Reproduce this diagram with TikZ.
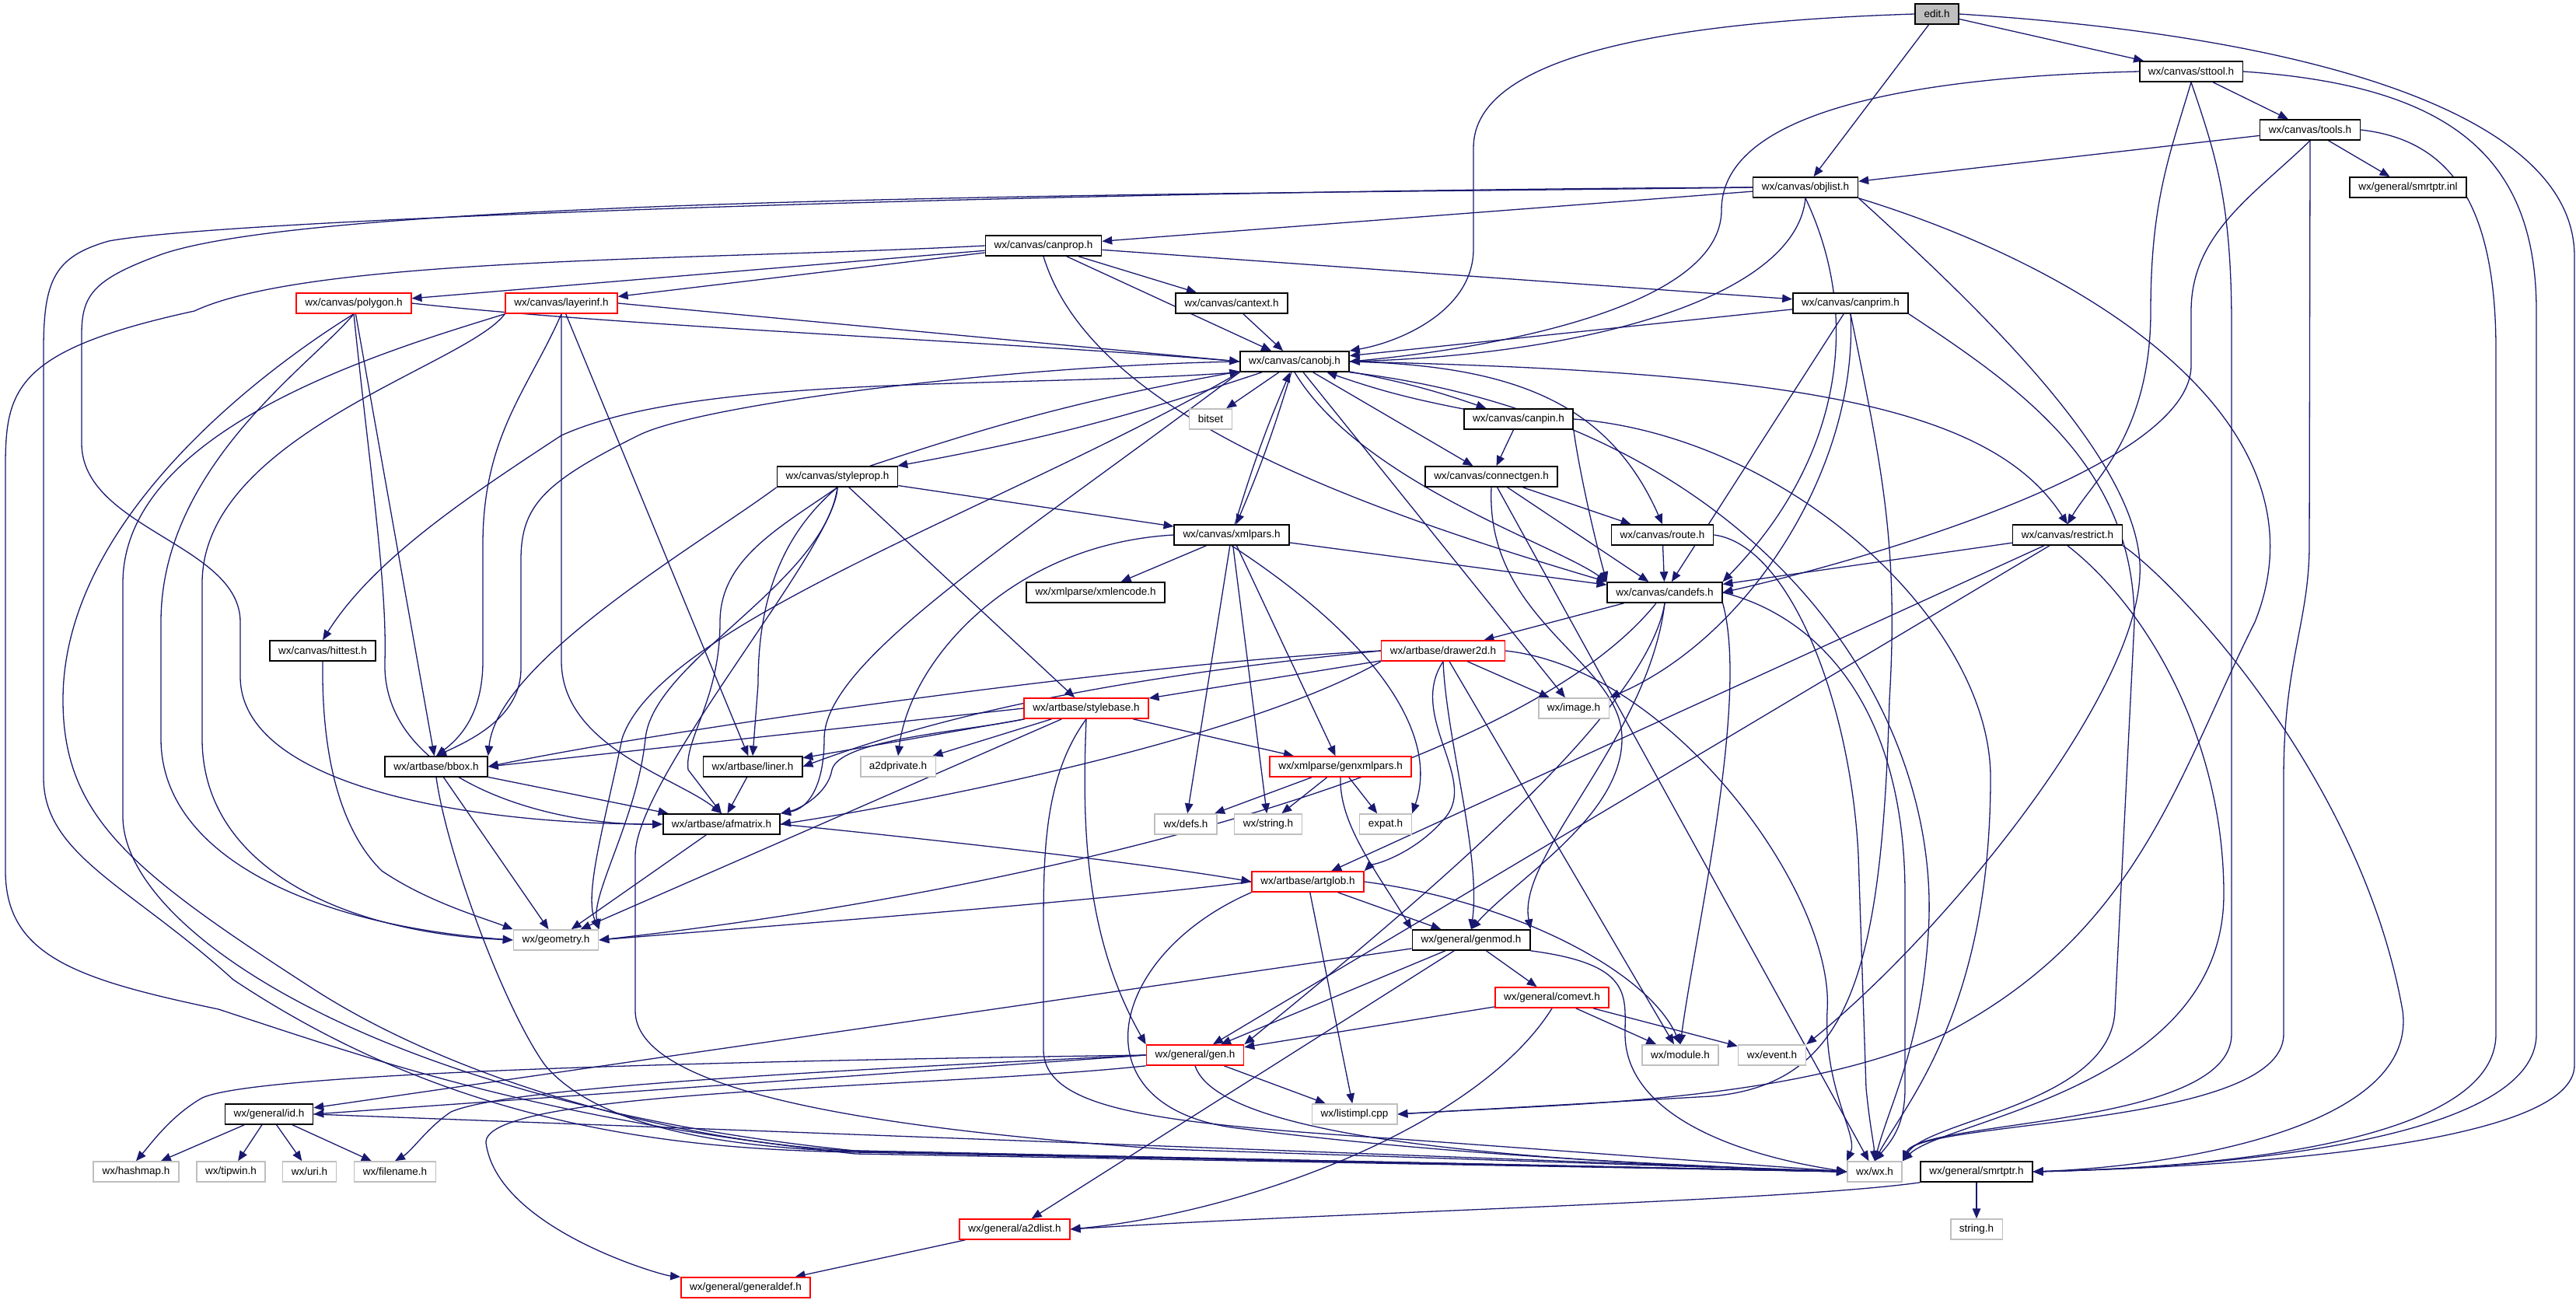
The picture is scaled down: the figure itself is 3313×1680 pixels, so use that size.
\documentclass[tikz,border=0pt]{standalone}
\usepackage{fontspec}
\setmainfont{Liberation Sans}
\usetikzlibrary{arrows.meta,backgrounds}
\definecolor{edgec}{HTML}{191970}
\definecolor{grayb}{HTML}{BFBFBF}
\definecolor{redb}{HTML}{FF0000}
\tikzset{
  box/.style={rectangle, draw, line width=1.4pt, minimum height=0.78cm, inner xsep=9.6pt, inner ysep=0pt, fill=white, font=\fontsize{11.5}{13}\selectfont},
  nb/.style={box, draw=black},
  nr/.style={box, draw=redb},
  ng/.style={box, draw=grayb},
  edge/.style={draw=edgec, line width=1.1pt, -{Triangle[length=11pt,width=9pt]}}
}
\begin{document}
\begin{tikzpicture}[x=0.03cm,y=-0.03cm]
\useasboundingbox (0,0) rectangle (3313,1680);
% nodes
\node[nb, fill=grayb] (edit) at (2491,18) {edit.h};
\node[nb] (sttool) at (2818,92) {wx/canvas/sttool.h};
\node[nb] (tools) at (2971,167) {wx/canvas/tools.h};
\node[nb] (objlist) at (2322,241) {wx/canvas/objlist.h};
\node[nb] (smrtptrinl) at (3097,241) {wx/general/smrtptr.inl};
\node[nb] (canprop) at (1342,316) {wx/canvas/canprop.h};
\node[nr] (polygon) at (455,390) {wx/canvas/polygon.h};
\node[nr] (layerinf) at (722,390) {wx/canvas/layerinf.h};
\node[nb] (cantext) at (1584,390) {wx/canvas/cantext.h};
\node[nb] (canprim) at (2380,390) {wx/canvas/canprim.h};
\node[nb] (canobj) at (1665,465) {wx/canvas/canobj.h};
\node[ng] (bitset) at (1557,539) {bitset};
\node[nb] (canpin) at (1953,539) {wx/canvas/canpin.h};
\node[nb] (styleprop) at (1077,613) {wx/canvas/styleprop.h};
\node[nb] (connectgen) at (1918,613) {wx/canvas/connectgen.h};
\node[nb] (xmlpars) at (1584,688) {wx/canvas/xmlpars.h};
\node[nb] (route) at (2138,688) {wx/canvas/route.h};
\node[nb] (restrict) at (2659,688) {wx/canvas/restrict.h};
\node[nb] (xmlencode) at (1409,762) {wx/xmlparse/xmlencode.h};
\node[nb] (candefs) at (2141,762) {wx/canvas/candefs.h};
\node[nb] (hittest) at (415,837) {wx/canvas/hittest.h};
\node[nr] (drawer2d) at (1856,837) {wx/artbase/drawer2d.h};
\node[nr] (stylebase) at (1397,911) {wx/artbase/stylebase.h};
\node[ng] (image) at (2024,911) {wx/image.h};
\node[nb] (bbox) at (561,986) {wx/artbase/bbox.h};
\node[nb] (liner) at (968,986) {wx/artbase/liner.h};
\node[ng] (a2dprivate) at (1155,986) {a2dprivate.h};
\node[nr] (genxmlpars) at (1724,986) {wx/xmlparse/genxmlpars.h};
\node[nb] (afmatrix) at (928,1060) {wx/artbase/afmatrix.h};
\node[ng] (defs) at (1525,1060) {wx/defs.h};
\node[ng] (string) at (1631,1060) {wx/string.h};
\node[ng] (expat) at (1782,1060) {expat.h};
\node[nr] (artglob) at (1682,1134) {wx/artbase/artglob.h};
\node[ng] (geometry) at (715,1209) {wx/geometry.h};
\node[nb] (genmod) at (1892,1209) {wx/general/genmod.h};
\node[nr] (comevt) at (1996,1283) {wx/general/comevt.h};
\node[nr] (gen) at (1537,1357) {wx/general/gen.h};
\node[ng] (module) at (2161,1357) {wx/module.h};
\node[ng] (event) at (2279,1357) {wx/event.h};
\node[nb] (id) at (346,1433) {wx/general/id.h};
\node[ng] (listimpl) at (1742,1433) {wx/listimpl.cpp};
\node[ng] (hashmap) at (175,1507) {wx/hashmap.h};
\node[ng] (tipwin) at (297,1507) {wx/tipwin.h};
\node[ng] (uri) at (398,1507) {wx/uri.h};
\node[ng] (filename) at (508,1507) {wx/filename.h};
\node[ng] (wx) at (2411,1507) {wx/wx.h};
\node[nb] (smrtptrh) at (2542,1507) {wx/general/smrtptr.h};
\node[nr] (a2dlist) at (1305,1581) {wx/general/a2dlist.h};
\node[ng] (stringh) at (2542,1581) {string.h};
\node[nr] (generaldef) at (959,1656) {wx/general/generaldef.h};
\begin{scope}[on background layer]
\fill[white] (0,0) rectangle (3313,1680);
% edit
\draw[edge] (edit.west) .. controls (2150,28) and (1895,70) .. (1895,190) -- (1895,320) .. controls (1895,400) and (1800,440) .. (canobj.north east);
\draw[edge] (edit) -- (objlist);
\draw[edge] (edit) -- (sttool);
\draw[edge] (edit.east) .. controls (2950,45) and (3311,140) .. (3311,330) -- (3311,1370) .. controls (3311,1470) and (2900,1500) .. (smrtptrh.east);
% sttool
\draw[edge] (sttool.west) .. controls (2400,100) and (2214,160) .. (2214,270) .. controls (2214,400) and (1900,450) .. (canobj.east);
\draw[edge] (sttool) -- (tools);
\draw[edge] (sttool.south) .. controls (2790,200) and (2766,260) .. (2766,400) .. controls (2766,560) and (2690,620) .. (restrict.north);
\draw[edge] (sttool.south) .. controls (2850,200) and (2870,260) .. (2870,420) -- (2870,1330) .. controls (2870,1450) and (2470,1440) .. (wx.north east);
\draw[edge] (sttool.east) .. controls (3150,110) and (3262,200) .. (3262,400) -- (3262,1330) .. controls (3262,1460) and (2900,1500) .. (smrtptrh.east);
% tools
\draw[edge] (tools) -- (objlist);
\draw[edge] (tools) -- (smrtptrinl);
\draw[edge] (tools.south) .. controls (2900,250) and (2818,300) .. (2818,400) -- (2818,470) .. controls (2818,600) and (2400,720) .. (candefs.east);
\draw[edge] (tools.south) -- (2970,700) .. controls (2970,800) and (2937,850) .. (2937,1000) -- (2937,1330) .. controls (2937,1450) and (2470,1440) .. (wx.north east);
\draw[edge] (tools.east) .. controls (3150,180) and (3210,260) .. (3210,450) -- (3210,1330) .. controls (3210,1460) and (2900,1500) .. (smrtptrh.east);
% objlist
\draw[edge] (objlist) -- (canprop);
\draw[edge] (objlist.south) .. controls (2310,380) and (2050,455) .. (canobj.east);
\draw[edge] (objlist.south) .. controls (2400,420) and (2360,600) .. (candefs.north east);
\draw[edge] (objlist.west) .. controls (1600,250) and (400,250) .. (200,330) .. controls (120,360) and (105,380) .. (105,430) -- (105,570) .. controls (105,680) and (309,700) .. (309,800) -- (309,870) .. controls (309,1010) and (600,1060) .. (afmatrix.west);
\draw[edge] (objlist.west) .. controls (1400,245) and (300,280) .. (140,310) .. controls (70,330) and (56,360) .. (56,450) -- (56,1000) .. controls (56,1100) and (168,1140) .. (300,1260) .. controls (600,1460) and (900,1478) .. (1100,1482) -- (wx.west);
\draw[edge] (objlist.south east) .. controls (2550,400) and (2760,600) .. (2752,740) .. controls (2745,900) and (2500,1200) .. (event.north east);
\draw[edge] (objlist.south east) .. controls (2700,350) and (3000,550) .. (2900,800) .. controls (2800,1000) and (2750,1200) .. (2500,1330) .. controls (2300,1420) and (2000,1420) .. (listimpl.east);
% canprop
\draw[edge] (canprop) -- (polygon);
\draw[edge] (canprop) -- (layerinf);
\draw[edge] (canprop) -- (cantext);
\draw[edge] (canprop) -- (canprim);
\draw[edge] (canprop) -- (canobj);
\draw[edge] (canprop.south) .. controls (1400,520) and (1700,640) .. (candefs.north west);
\draw[edge] (canprop.west) .. controls (900,335) and (400,330) .. (250,400) .. controls (20,450) and (7,500) .. (7,600) -- (7,1120) .. controls (7,1230) and (100,1260) .. (281,1298) .. controls (500,1370) and (700,1440) .. (1100,1484) -- (wx.west);
% polygon
\draw[edge] (polygon.east) .. controls (800,420) and (1300,440) .. (canobj.west);
\draw[edge] (polygon) -- (bbox);
\draw[edge] (polygon.south) .. controls (475,600) and (498,750) .. (495,850) .. controls (490,1000) and (700,1062) .. (afmatrix.west);
\draw[edge] (polygon.south) .. controls (400,470) and (207,600) .. (207,800) -- (207,950) .. controls (207,1100) and (400,1190) .. (geometry.west);
\draw[edge] (polygon.south) .. controls (380,450) and (81,650) .. (81,900) .. controls (81,1050) and (168,1120) .. (400,1270) .. controls (600,1400) and (900,1472) .. (1100,1480) -- (wx.west);
% layerinf
\draw[edge] (layerinf.east) -- (canobj.west);
\draw[edge] (layerinf.south) .. controls (680,500) and (621,560) .. (621,700) -- (621,850) .. controls (621,920) and (590,950) .. (bbox.north);
\draw[edge] (layerinf) -- (liner);
\draw[edge] (layerinf.south) -- (722,850) .. controls (722,960) and (870,1000) .. (afmatrix.north);
\draw[edge] (layerinf.south west) .. controls (600,470) and (260,560) .. (260,750) -- (260,950) .. controls (260,1120) and (450,1200) .. (geometry.west);
\draw[edge] (layerinf.south west) .. controls (500,450) and (158,550) .. (158,750) -- (158,1050) .. controls (158,1200) and (500,1420) .. (1100,1480) -- (wx.west);
% cantext, canprim
\draw[edge] (cantext) -- (canobj);
\draw[edge] (canprim) -- (canobj);
\draw[edge] (canprim) -- (candefs);
\draw[edge] (canprim.south) .. controls (2390,600) and (2250,820) .. (image.north east);
\draw[edge] (canprim.south) .. controls (2420,600) and (2442,700) .. (2430,900) .. controls (2420,1250) and (2380,1395) .. (2200,1410) -- (listimpl.east);
\draw[edge] (canprim.south east) .. controls (2600,500) and (2745,600) .. (2745,800) -- (2720,1300) .. controls (2715,1420) and (2480,1440) .. (wx.north east);
% canobj
\draw[edge] (canobj) -- (bitset);
\draw[edge] (canobj) to[bend left=4] (canpin);
\draw[edge] (canpin) to[bend left=4] (canobj);
\draw[edge] (canobj) to[bend left=4] (styleprop);
\draw[edge] (styleprop) to[bend left=4] (canobj);
\draw[edge] (canobj) to[bend left=3] (xmlpars);
\draw[edge] (xmlpars) to[bend left=3] (canobj);
\draw[edge] (canobj) -- (connectgen);
\draw[edge] (canobj.east) .. controls (1950,470) and (2070,520) .. (route.north);
\draw[edge] (canobj.east) .. controls (2300,478) and (2560,520) .. (restrict.north);
\draw[edge] (canobj.south) .. controls (1750,620) and (2000,700) .. (candefs.north west);
\draw[edge] (canobj.south west) .. controls (1300,500) and (900,480) .. (722,560) .. controls (600,640) and (480,720) .. (hittest.north);
\draw[edge] (canobj.west) .. controls (1300,470) and (900,520) .. (821,560) .. controls (700,620) and (670,650) .. (670,720) -- (670,860) .. controls (670,920) and (610,950) .. (bbox.north);
\draw[edge] (canobj.south west) .. controls (1300,700) and (1060,850) .. (1060,950) .. controls (1060,1010) and (1040,1040) .. (afmatrix.north east);
\draw[edge] (canobj.south west) .. controls (1300,650) and (850,800) .. (800,950) .. controls (780,1050) and (750,1150) .. (geometry.north east);
\draw[edge] (canobj) -- (image);
\draw[edge] (canobj.south east) .. controls (2250,540) and (2500,900) .. (2480,1200) .. controls (2470,1350) and (2430,1420) .. (wx.north);
% canpin
\draw[edge] (canpin) -- (connectgen);
\draw[edge] (canpin.south east) .. controls (2030,600) and (2050,690) .. (candefs.north west);
\draw[edge] (canpin.east) .. controls (2300,560) and (2560,800) .. (2560,1000) .. controls (2560,1300) and (2450,1420) .. (wx.north);
% styleprop
\draw[edge] (styleprop) -- (xmlpars);
\draw[edge] (styleprop) -- (stylebase);
\draw[edge] (styleprop.south west) .. controls (900,700) and (640,850) .. (bbox.north east);
\draw[edge] (styleprop.south) .. controls (990,700) and (975,800) .. (975,880) -- (liner.north);
\draw[edge] (styleprop.south) .. controls (1000,680) and (926,720) .. (926,800) .. controls (926,900) and (880,950) .. (885,990) -- (afmatrix.north);
\draw[edge] (styleprop.south) .. controls (1060,750) and (840,850) .. (830,950) .. controls (820,1050) and (760,1150) .. (geometry.north east);
\draw[edge] (styleprop.south) .. controls (1077,700) and (817,1000) .. (817,1100) -- (817,1300) .. controls (817,1400) and (1100,1450) .. (1500,1478) -- (wx.west);
% connectgen
\draw[edge] (connectgen) -- (route);
\draw[edge] (connectgen) -- (candefs);
\draw[edge] (connectgen.south) .. controls (1910,800) and (2086,850) .. (2086,950) .. controls (2086,1050) and (1950,1130) .. (genmod.north);
\draw[edge] (connectgen) -- (wx);
% route
\draw[edge] (route) -- (candefs);
\draw[edge] (route.east) .. controls (2300,700) and (2380,900) .. (2390,1100) -- (2400,1400) .. controls (2405,1450) and (2410,1470) .. (wx.north);
% restrict
\draw[edge] (restrict) -- (candefs);
\draw[edge] (restrict) -- (artglob);
\draw[edge] (restrict) -- (gen);
\draw[edge] (restrict.south) .. controls (2760,780) and (2860,950) .. (2860,1150) .. controls (2860,1400) and (2500,1440) .. (wx.north east);
\draw[edge] (restrict.south east) .. controls (2800,750) and (3037,1000) .. (3090,1300) .. controls (3110,1450) and (2800,1500) .. (smrtptrh.east);
% xmlpars
\draw[edge] (xmlpars) -- (candefs);
\draw[edge] (xmlpars) -- (xmlencode);
\draw[edge] (xmlpars.west) .. controls (1300,700) and (1170,850) .. (a2dprivate.north);
\draw[edge] (xmlpars) -- (genxmlpars);
\draw[edge] (xmlpars) -- (defs);
\draw[edge] (xmlpars) -- (string);
\draw[edge] (xmlpars.south) .. controls (1780,830) and (1850,950) .. (expat.north east);
% candefs
\draw[edge] (candefs) -- (drawer2d);
\draw[edge] (candefs) .. controls (1950,1000) and (1300,1150) .. (geometry.east);
\draw[edge] (candefs.south) .. controls (2120,900) and (1900,1100) .. (gen.north east);
\draw[edge] (candefs.south) .. controls (2120,950) and (1950,1100) .. (genmod.north east);
\draw[edge] (candefs.south east) .. controls (2250,900) and (2180,1200) .. (module.north);
\draw[edge] (candefs.east) .. controls (2330,790) and (2450,900) .. (2450,1150) -- (2450,1400) .. controls (2450,1450) and (2430,1470) .. (wx.north);
% hittest
\draw[edge] (hittest.south) .. controls (413,1000) and (450,1080) .. (491,1120) .. controls (550,1160) and (620,1180) .. (geometry.north west);
% drawer2d
\draw[edge] (drawer2d) -- (stylebase);
\draw[edge] (drawer2d) -- (image);
\draw[edge] (drawer2d.west) .. controls (1500,850) and (900,930) .. (bbox.east);
\draw[edge] (drawer2d.west) .. controls (1500,865) and (1250,905) .. (liner.east);
\draw[edge] (drawer2d.south west) .. controls (1600,950) and (1200,1030) .. (afmatrix.east);
\draw[edge] (drawer2d.south) .. controls (1810,920) and (1900,1000) .. (1860,1050) .. controls (1820,1100) and (1760,1115) .. (artglob.north east);
\draw[edge] (drawer2d.south) .. controls (1860,950) and (1905,1100) .. (genmod.north);
\draw[edge] (drawer2d) -- (module);
\draw[edge] (drawer2d.east) .. controls (2150,860) and (2360,1150) .. (2350,1300) .. controls (2345,1400) and (2390,1460) .. (wx.north west);
% stylebase
\draw[edge] (stylebase.west) -- (bbox.east);
\draw[edge] (stylebase) -- (liner);
\draw[edge] (stylebase.south west) .. controls (1250,940) and (1080,950) .. (1070,990) .. controls (1065,1020) and (1030,1040) .. (afmatrix.north east);
\draw[edge] (stylebase) -- (geometry);
\draw[edge] (stylebase) -- (a2dprivate);
\draw[edge] (stylebase) -- (genxmlpars);
\draw[edge] (stylebase.south) .. controls (1392,1050) and (1392,1200) .. (gen.north west);
\draw[edge] (stylebase.south) .. controls (1342,1000) and (1342,1100) .. (1342,1200) -- (1342,1350) .. controls (1342,1430) and (1500,1445) .. (1800,1465) -- (wx.west);
% bbox, liner
\draw[edge] (bbox) -- (afmatrix);
\draw[edge] (bbox) -- (geometry);
\draw[edge] (bbox.south) .. controls (575,1100) and (650,1300) .. (701,1370) .. controls (760,1440) and (900,1475) .. (1100,1481) -- (wx.west);
\draw[edge] (liner) -- (afmatrix);
% genxmlpars
\draw[edge] (genxmlpars) -- (defs);
\draw[edge] (genxmlpars) -- (string);
\draw[edge] (genxmlpars) -- (expat);
\draw[edge] (genxmlpars.south) .. controls (1722,1060) and (1770,1120) .. (genmod.north west);
% afmatrix
\draw[edge] (afmatrix.east) .. controls (1300,1090) and (1500,1115) .. (artglob.west);
\draw[edge] (afmatrix) -- (geometry);
% artglob
\draw[edge] (artglob.west) .. controls (1400,1160) and (1000,1190) .. (geometry.east);
\draw[edge] (artglob) -- (genmod);
\draw[edge] (artglob.east) .. controls (1950,1160) and (2120,1250) .. (module.north);
\draw[edge] (artglob) -- (listimpl);
\draw[edge] (artglob.south west) .. controls (1420,1230) and (1380,1430) .. (1600,1452) .. controls (1900,1490) and (2200,1500) .. (wx.west);
% genmod
\draw[edge] (genmod) -- (comevt);
\draw[edge] (genmod) -- (gen);
\draw[edge] (genmod) -- (id);
\draw[edge] (genmod) -- (a2dlist);
\draw[edge] (genmod.south east) .. controls (2100,1240) and (2090,1280) .. (2090,1330) .. controls (2090,1420) and (2200,1480) .. (wx.west);
% comevt
\draw[edge] (comevt) -- (gen);
\draw[edge] (comevt) -- (module);
\draw[edge] (comevt) -- (event);
\draw[edge] (comevt.south) .. controls (1900,1450) and (1600,1560) .. (a2dlist.east);
% gen
\draw[edge] (gen.west) -- (id.east);
\draw[edge] (gen.west) .. controls (900,1365) and (330,1380) .. (260,1412) .. controls (220,1435) and (195,1470) .. (hashmap.north);
\draw[edge] (gen.west) .. controls (1000,1380) and (650,1400) .. (580,1430) .. controls (550,1450) and (530,1480) .. (filename.north);
\draw[edge] (gen.south west) .. controls (1200,1400) and (620,1400) .. (625,1470) .. controls (640,1580) and (850,1640) .. (generaldef.north west);
\draw[edge] (gen) -- (listimpl);
\draw[edge] (gen.south) .. controls (1570,1470) and (2000,1495) .. (wx.west);
% id
\draw[edge] (id) -- (hashmap);
\draw[edge] (id) -- (tipwin);
\draw[edge] (id) -- (uri);
\draw[edge] (id) -- (filename);
\draw[edge] (id.east) -- (wx.west);
% smrtptr, a2dlist
\draw[edge] (smrtptrh.south west) .. controls (2300,1545) and (1700,1560) .. (a2dlist.east);
\draw[edge] (smrtptrh) -- (stringh);
\draw[edge] (a2dlist) -- (generaldef);
\end{scope}
\end{tikzpicture}
\end{document}
